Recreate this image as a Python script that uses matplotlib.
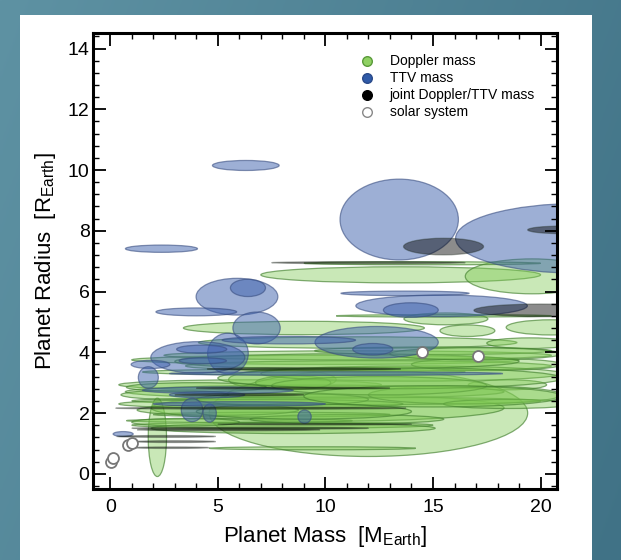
import numpy as np
import matplotlib.pyplot as plt
from matplotlib.patches import Ellipse, Rectangle
from matplotlib.ticker import MultipleLocator

plt.rcParams['font.family'] = ['Liberation Sans', 'DejaVu Sans']
plt.rcParams['mathtext.fontset'] = 'custom'
plt.rcParams['mathtext.rm'] = 'Liberation Sans'

# elipses de error: centro (masa, radio), ancho y alto en unidades terrestres

# masa por Doppler (verde)
dop_x = [13.5, 19.6, 14.5, 9.0, 15.6, 16.6, 20.5, 11.5, 15.5, 6.5, 8.0, 18.46, 12.0, 2.19,
         10.1, 8.0, 9.4, 8.5, 9.5, 10.0, 12.0, 10.5, 7.0, 3.0, 11.5, 6.0, 7.5, 9.0, 15.0, 8.5,
         14.0, 16.5, 17.5, 12.5, 19.5, 18.5, 5.0, 4.0, 8.0, 11.0, 3.5,
         13.0, 15.0, 11.0, 17.0, 9.0]
dop_y = [6.55, 6.5, 6.93, 4.8, 5.1, 4.71, 4.82, 4.32, 5.2, 2.93, 3.1, 2.93, 2.0, 1.2,
         2.17, 1.6, 0.84, 1.5, 2.7, 3.75, 3.55, 2.4, 2.3, 2.6, 3.9, 1.75, 1.95, 3.35, 4.05, 3.0,
         3.3, 2.6, 3.6, 2.9, 4.3, 2.3, 2.1, 2.85, 2.45, 1.8, 1.7,
         3.15, 2.55, 3.7, 3.95, 2.05]
dop_w = [13.0, 6.2, 11.0, 11.2, 3.9, 2.55, 4.2, 14.8, 10.0, 12.2, 5.0, 3.64, 14.8, 0.85,
         16.4, 14.0, 9.6, 13.2, 17.6, 18.0, 17.0, 19.0, 13.2, 5.0, 18.0, 10.5, 11.0, 15.0, 11.0, 3.5,
         14.0, 9.0, 7.0, 10.0, 4.0, 6.0, 7.5, 6.5, 8.0, 9.0, 5.0,
         16.0, 12.0, 16.0, 8.0, 10.0]
dop_h = [0.53, 1.15, 0.1, 0.44, 0.39, 0.38, 0.5, 0.38, 0.08, 0.33, 0.66, 0.33, 2.86, 2.58,
         0.88, 0.2, 0.1, 0.35, 0.44, 0.3, 0.35, 0.25, 0.3, 0.3, 0.3, 0.12, 0.15, 0.2, 0.25, 0.45,
         0.5, 0.6, 0.4, 0.6, 0.35, 0.3, 0.35, 0.3, 0.4, 0.3, 0.25,
         0.7, 0.7, 0.5, 0.4, 0.5]

# masa por TTV (azul)
ttv_x = [6.3, 2.38, 13.43, 21.8, 5.89, 6.4, 4.0, 6.8, 5.47, 4.07, 4.25, 1.87, 1.77, 13.7,
         15.4, 13.97, 12.38, 12.2, 8.3, 3.8, 4.62, 9.03, 0.6, 5.0, 4.5, 10.5, 6.0, 4.3]
ttv_y = [10.15, 7.41, 8.37, 7.75, 5.83, 6.12, 5.33, 4.8, 3.96, 3.83, 4.1, 3.6, 3.17, 5.94,
         5.53, 5.39, 4.33, 4.1, 4.4, 2.1, 2.0, 1.88, 1.31, 2.75, 2.6, 3.3, 2.3, 3.72]
ttv_w = [3.1, 3.35, 5.5, 11.5, 3.8, 1.63, 3.75, 2.2, 1.89, 4.37, 2.33, 1.8, 0.93, 5.96,
         7.97, 2.55, 5.73, 1.86, 6.2, 1.0, 0.62, 0.62, 0.93, 7.0, 3.5, 15.5, 8.0, 2.2]
ttv_h = [0.33, 0.24, 2.66, 2.3, 1.21, 0.57, 0.26, 1.05, 1.34, 1.04, 0.27, 0.27, 0.71, 0.15,
         0.71, 0.48, 1.04, 0.38, 0.25, 0.77, 0.6, 0.44, 0.16, 0.22, 0.2, 0.12, 0.15, 0.2]

# masa conjunta Doppler/TTV (negro)
jnt_x = [15.49, 21.0, 20.0, 12.0, 5.5, 2.6, 3.0, 2.8, 9.0, 6.0, 7.0, 6.5, 8.5, 9.5]
jnt_y = [7.48, 8.03, 5.38, 6.95, 1.45, 1.23, 1.06, 0.86, 3.45, 2.6, 2.16, 1.5, 2.82, 1.63]
jnt_w = [3.72, 3.2, 6.2, 9.0, 8.5, 4.6, 3.8, 3.6, 9.0, 6.0, 13.5, 11.0, 9.0, 9.0]
jnt_h = [0.55, 0.25, 0.42, 0.07, 0.07, 0.06, 0.06, 0.05, 0.09, 0.08, 0.07, 0.07, 0.07, 0.05]

# sistema solar: Mercurio, Marte, Venus, Tierra, Urano, Neptuno
sol_x = [0.055, 0.107, 0.815, 1.0, 14.5, 17.1]
sol_y = [0.38, 0.53, 0.95, 1.0, 4.0, 3.88]

etiquetas = ['Doppler mass', 'TTV mass', 'joint Doppler/TTV mass', 'solar system']


def dibujar(ax, xs, ys, ws, hs, cara, borde):
    for x, y, w, h in zip(xs, ys, ws, hs):
        ax.add_patch(Ellipse((x, y), w, h, facecolor=cara, edgecolor=borde, linewidth=0.9))


fig = plt.figure(figsize=(6.21, 5.6), dpi=100)

# fondo azul verdoso con panel blanco
fondo = fig.add_axes([0, 0, 1, 1], zorder=-10)
gx, gy = np.meshgrid(np.linspace(0, 1, 200), np.linspace(0, 1, 200))
t = 0.75 * gx + 0.25 * gy
c0 = np.array([94, 146, 163]) / 255
c1 = np.array([64, 114, 134]) / 255
fondo.imshow(c0 + (c1 - c0) * t[..., None], extent=[0, 1, 0, 1], aspect='auto', origin='upper')
fondo.add_patch(Rectangle((20 / 621, 0), 572 / 621, 545 / 560, facecolor='white', edgecolor='none'))
fondo.set_xlim(0, 1)
fondo.set_ylim(0, 1)
fondo.axis('off')

ax = fig.add_axes([0.1498, 0.1268, 0.7467, 0.8137])

dibujar(ax, dop_x, dop_y, dop_w, dop_h, (0.50, 0.79, 0.33, 0.42), (0.26, 0.50, 0.18, 0.65))
dibujar(ax, ttv_x, ttv_y, ttv_w, ttv_h, (0.24, 0.38, 0.68, 0.50), (0.22, 0.30, 0.50, 0.6))
dibujar(ax, jnt_x, jnt_y, jnt_w, jnt_h, (0.0, 0.0, 0.0, 0.45), (0.1, 0.15, 0.1, 0.35))
ax.scatter(sol_x, sol_y, s=62, facecolor='white', edgecolor='#777777', linewidth=1.3, zorder=5)

ax.set_xlim(-0.8, 20.75)
ax.set_ylim(-0.5, 14.5)
ax.set_xticks([0, 5, 10, 15, 20])
ax.set_yticks(range(0, 15, 2))
ax.xaxis.set_minor_locator(MultipleLocator(1))
ax.yaxis.set_minor_locator(MultipleLocator(0.4))
ax.tick_params(which='both', direction='in', top=True, right=True, labelsize=14)
ax.tick_params(which='major', length=9, width=1.3)
ax.tick_params(which='minor', length=4.5, width=1.0)
ax.tick_params(axis='x', pad=7)
ax.tick_params(axis='y', pad=2.5)
for s in ax.spines.values():
    s.set_linewidth(2.2)

ax.set_xlabel('Planet Mass  [M$_{\\mathrm{Earth}}$]', fontsize=16)
ax.set_ylabel('Planet Radius  [R$_{\\mathrm{Earth}}$]', fontsize=16)
ax.xaxis.set_label_coords(0.5, -0.077)
ax.yaxis.set_label_coords(-0.075, 0.5)

# leyenda hecha a mano
colores = ['#8fd163', '#2f5aa8', 'black', 'white']
bordes = ['#5a9a3a', '#2a4a8a', 'black', '#888888']
for i in range(4):
    yy = 0.940 - i * 0.0378
    ax.scatter([0.590], [yy], s=48, facecolor=colores[i], edgecolor=bordes[i],
               linewidth=1.0, transform=ax.transAxes, zorder=6)
    ax.text(0.640, yy, etiquetas[i], fontsize=10, va='center', ha='left',
            transform=ax.transAxes)

fig.savefig('out.png', dpi=100)
